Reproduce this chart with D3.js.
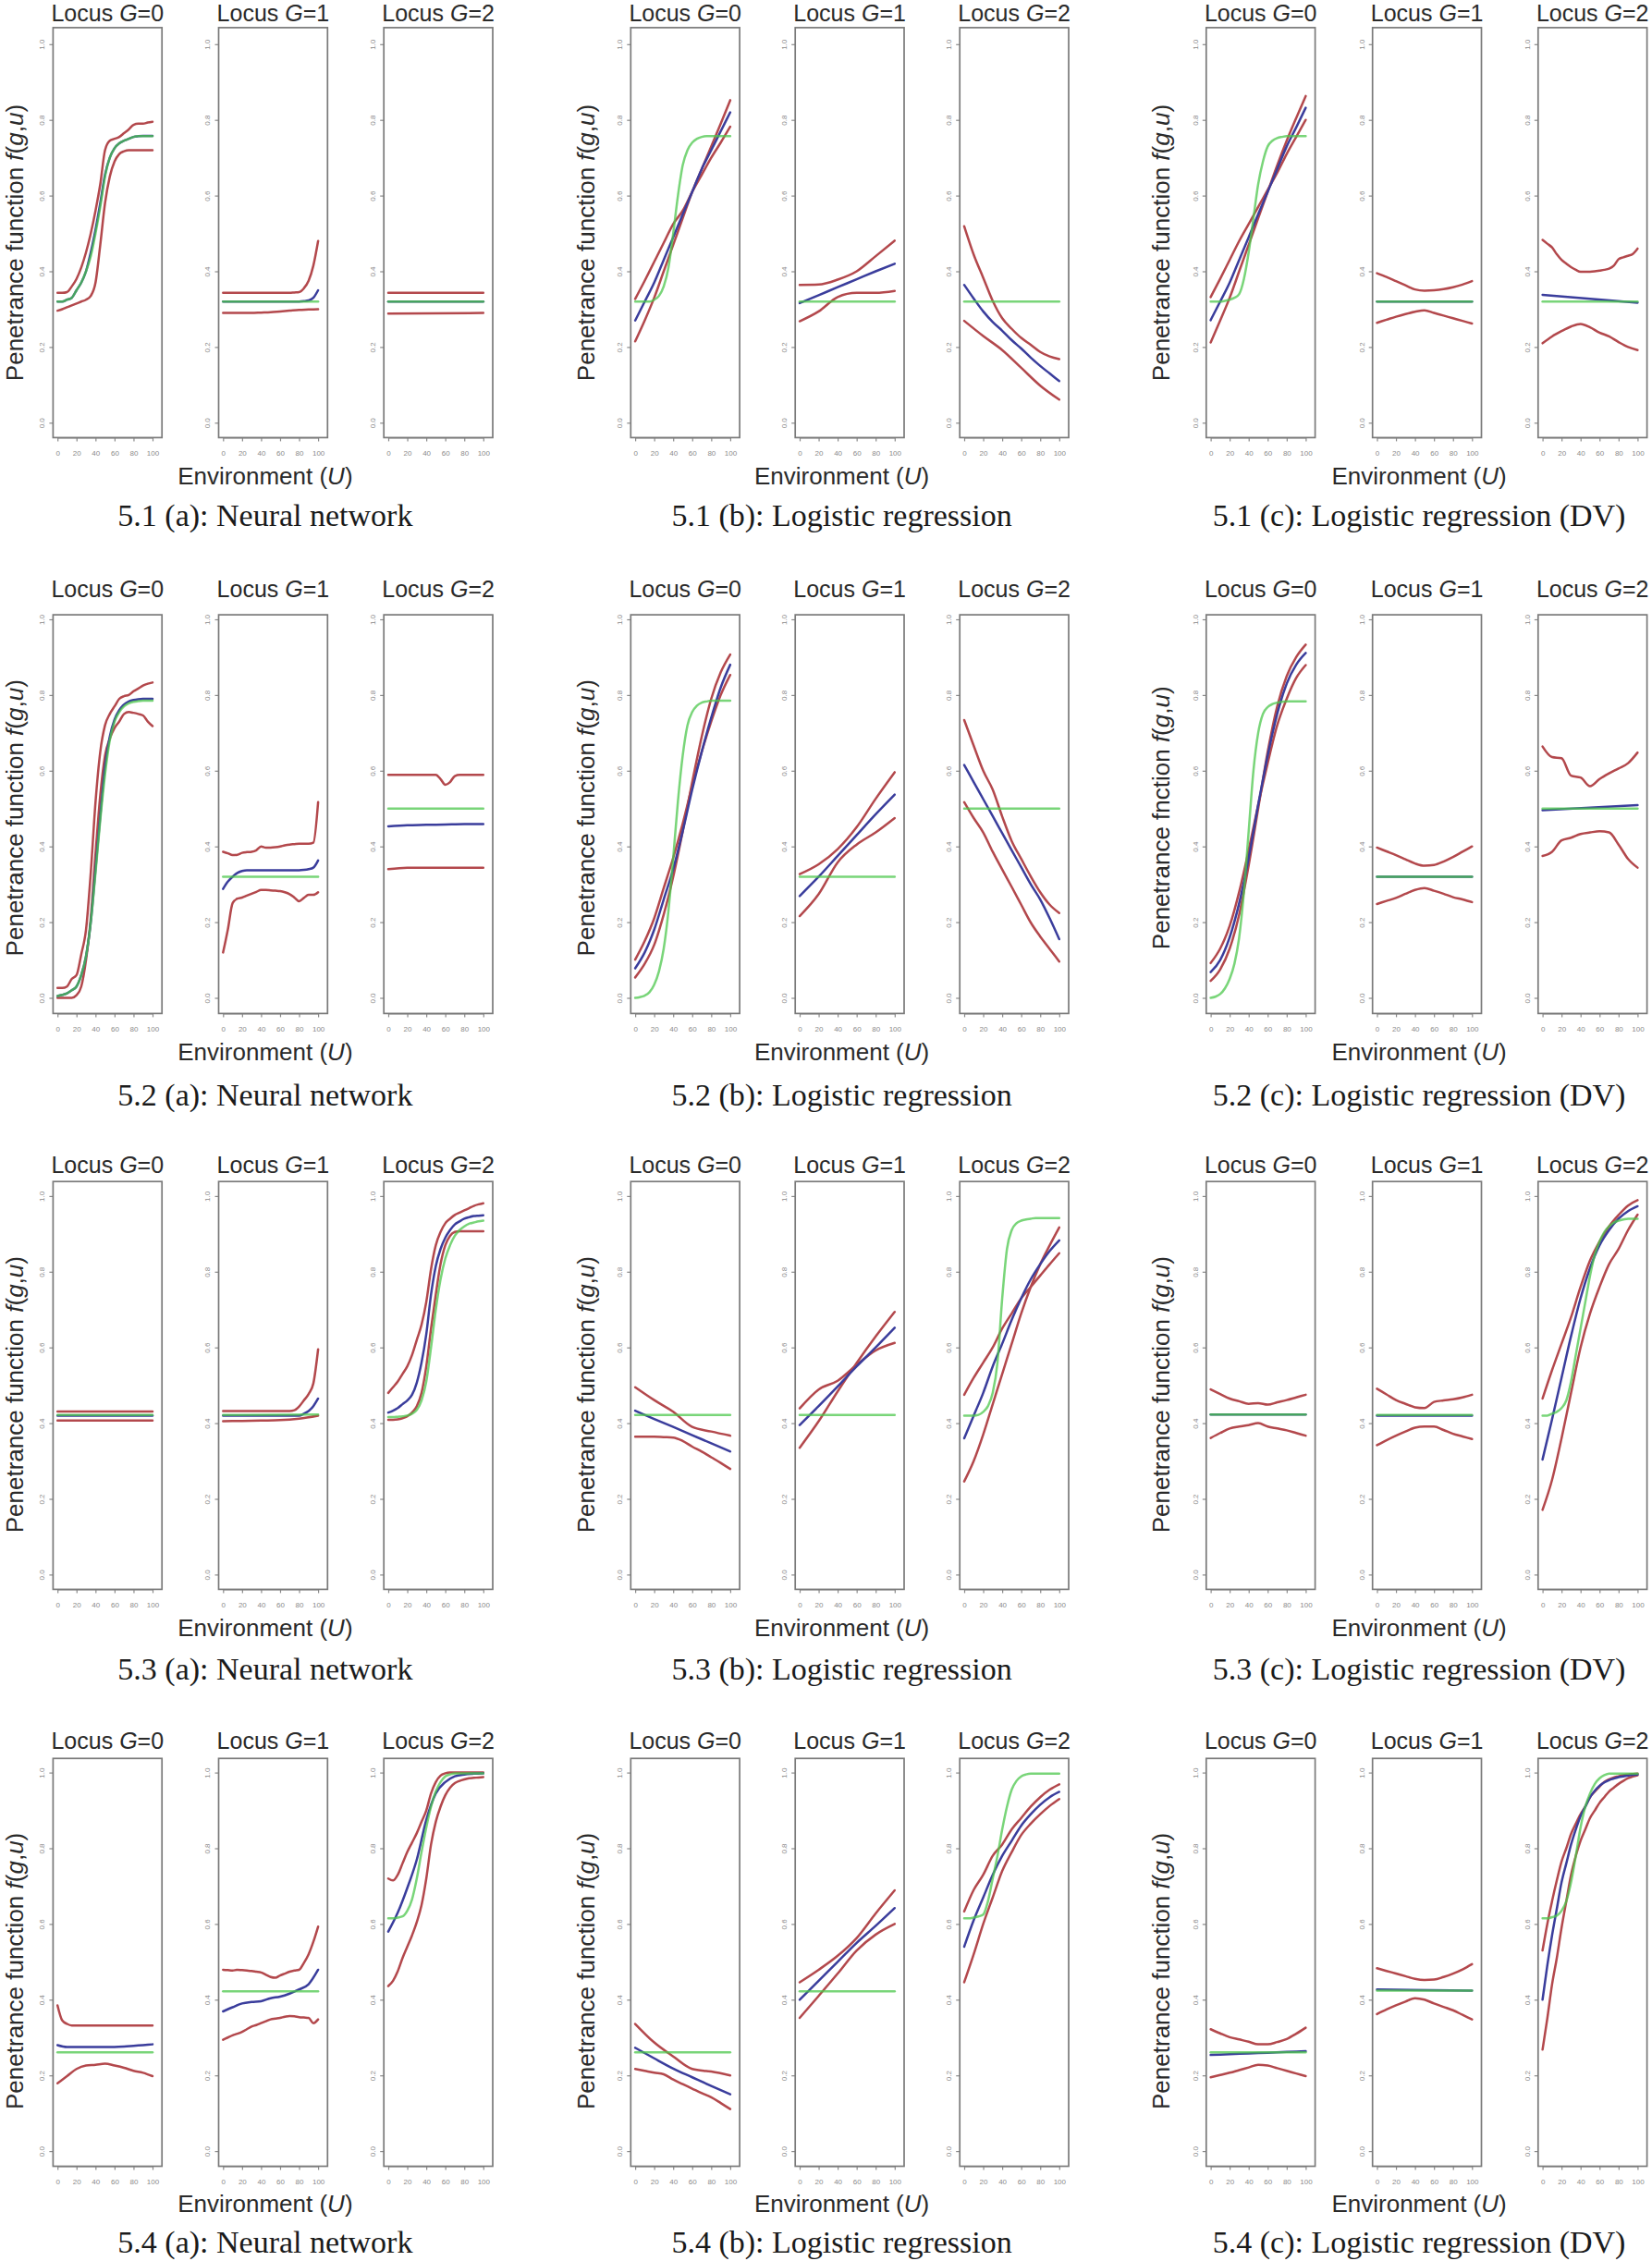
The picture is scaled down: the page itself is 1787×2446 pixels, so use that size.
<!DOCTYPE html>
<html><head><meta charset="utf-8">
<script src="https://cdnjs.cloudflare.com/ajax/libs/d3/7.8.5/d3.min.js"></script>
<style>body{margin:0;background:#fff} svg{display:block}</style>
</head><body>
<script>
// ---------- tick labels / text ----------
const xTicks=[0,20,40,60,80,100];
const yTicks=[0,0.2,0.4,0.6,0.8,1.0];
const genotypes=['0','1','2'];
const captions=['5.1 (a): Neural network','5.1 (b): Logistic regression','5.1 (c): Logistic regression (DV)',
 '5.2 (a): Neural network','5.2 (b): Logistic regression','5.2 (c): Logistic regression (DV)',
 '5.3 (a): Neural network','5.3 (b): Logistic regression','5.3 (c): Logistic regression (DV)',
 '5.4 (a): Neural network','5.4 (b): Logistic regression','5.4 (c): Logistic regression (DV)'];
const yTitleWords=['Penetrance function','Penetrance function','Penetrance function',
 'Penetrance function','Penetrance function','Penetrance fnction',
 'Penetrance function','Penetrance function','Penetrance function',
 'Penetrance function','Penetrance function','Penetrance function'];
// ---------- data: each series sampled evenly over U = 0..100 ----------
// T = true (green), E = estimate (blue), A/B = confidence bounds (red); [G=0, G=1, G=2]
const T51a=[[.32,.32,.325,.33,.35,.37,.40,.44,.50,.57,.65,.70,.725,.738,.745,.75,.755,.757,.757,.757,.757],[.32,.32],[.32,.32]];
const E51a=[[.32,.32,.325,.33,.35,.37,.40,.45,.51,.58,.655,.70,.725,.738,.745,.75,.755,.757,.758,.758,.758],[.32,.32,.32,.32,.32,.32,.32,.32,.32,.32,.32,.32,.32,.32,.32,.32,.32,.321,.323,.33,.35],[.32,.32]];
const A51a=[[.343,.343,.345,.36,.38,.41,.45,.50,.56,.63,.72,.745,.75,.755,.765,.775,.787,.79,.79,.793,.795],[.343,.343,.343,.343,.343,.343,.343,.343,.343,.343,.343,.343,.343,.343,.343,.344,.345,.355,.375,.415,.48],[.343,.343]];
const B51a=[[.296,.30,.305,.31,.315,.32,.325,.335,.37,.47,.58,.65,.69,.71,.717,.72,.72,.72,.72,.72,.72],[.29,.29,.29,.29,.291,.292,.294,.296,.298,.299,.30],[.288,.29]];

const T51b=[[.32,.32,.32,.32,.325,.335,.36,.41,.50,.60,.68,.72,.74,.75,.755,.757,.757,.757,.757,.757,.757],[.32,.32],[.32,.32]];
const E51b=[[.27,.32,.37,.43,.49,.55,.61,.67,.72,.77,.82],[.316,.337,.358,.379,.40,.42],[.364,.328,.294,.266,.243,.218,.196,.172,.15,.13,.11]];
const A51b=[[.327,.375,.425,.475,.525,.56,.61,.655,.70,.74,.782],[.364,.365,.378,.40,.44,.481],[.519,.444,.383,.322,.276,.248,.224,.206,.187,.175,.168]];
const B51b=[[.215,.27,.33,.40,.47,.54,.61,.67,.73,.79,.852],[.268,.294,.332,.343,.343,.348],[.269,.229,.192,.145,.098,.061]];

const T51c=[[.32,.32,.32,.322,.325,.33,.34,.38,.45,.54,.63,.69,.73,.745,.752,.755,.757,.757,.757,.757,.757],[.32,.32],[.32,.32]];
const E51c=[[.271,.32,.37,.43,.49,.551,.61,.67,.73,.78,.832],[.32,.32],[.338,.317]];
const A51c=[[.332,.38,.43,.48,.525,.57,.615,.66,.71,.755,.80],[.395,.385,.374,.363,.352,.349,.35,.353,.358,.365,.374],[.483,.473,.463,.445,.43,.42,.411,.404,.399,.399,.399,.40,.402,.404,.407,.415,.432,.437,.441,.446,.46]];
const B51c=[[.212,.27,.33,.40,.47,.54,.61,.68,.745,.805,.863],[.264,.272,.28,.287,.293,.297,.29,.283,.276,.269,.262],[.21,.228,.242,.254,.261,.252,.238,.228,.213,.20,.192]];

const T52a=[[.005,.008,.012,.02,.03,.06,.11,.20,.33,.47,.59,.68,.73,.755,.77,.778,.782,.784,.785,.785,.785],[.32,.32],[.5,.5]];
const E52a=[[.005,.008,.012,.02,.03,.06,.11,.20,.34,.48,.61,.69,.735,.76,.775,.783,.787,.789,.79,.79,.79],[.288,.307,.32,.33,.335,.337,.337,.337,.337,.337,.337,.337,.337,.337,.337,.337,.337,.338,.34,.344,.363],[.453,.456,.457,.458,.459,.459]];
const A52a=[[.026,.026,.03,.05,.06,.115,.18,.33,.517,.65,.72,.75,.77,.79,.797,.80,.81,.817,.825,.83,.833],[.386,.382,.377,.378,.383,.385,.386,.39,.40,.397,.397,.398,.40,.403,.405,.406,.407,.407,.407,.41,.517],[.589,.589,.589,.589,.589,.589,.589,.589,.589,.589,.589,.578,.563,.57,.586,.589,.589,.589,.589,.589,.589]];
const B52a=[[0,0,0,0,.007,.03,.10,.21,.38,.535,.64,.685,.713,.73,.75,.755,.753,.75,.746,.73,.718],[.12,.18,.25,.262,.265,.27,.275,.28,.285,.285,.284,.283,.282,.279,.274,.265,.255,.264,.272,.272,.279],[.34,.344,.344,.344,.344,.344]];

const T52b=[[0,.002,.006,.015,.035,.07,.13,.23,.37,.52,.64,.72,.755,.772,.78,.783,.785,.785,.785,.785,.785],[.32,.32],[.5,.5]];
const E52b=[[.078,.12,.18,.26,.34,.44,.55,.65,.74,.82,.88],[.269,.32,.375,.43,.485,.537],[.615,.57,.525,.48,.435,.39,.345,.30,.26,.21,.155]];
const A52b=[[.101,.15,.21,.29,.37,.46,.56,.65,.73,.80,.853],[.327,.353,.393,.451,.526,.596],[.734,.666,.60,.55,.479,.414,.367,.321,.279,.246,.224]];
const B52b=[[.054,.09,.14,.22,.32,.44,.57,.69,.79,.86,.907],[.216,.274,.358,.405,.437,.475],[.517,.475,.437,.386,.339,.293,.246,.199,.162,.129,.096]];

const T52c=[[0,.003,.01,.025,.05,.09,.16,.28,.44,.60,.70,.75,.768,.776,.78,.782,.783,.783,.783,.783,.783],[.32,.32],[.5,.5]];
const E52c=[[.068,.10,.16,.25,.37,.51,.64,.75,.83,.88,.911],[.32,.32],[.496,.509]];
const A52c=[[.092,.13,.19,.28,.39,.51,.62,.72,.79,.845,.879],[.397,.387,.377,.366,.355,.349,.351,.36,.372,.386,.40],[.664,.636,.633,.587,.582,.559,.578,.593,.606,.62,.648]];
const B52c=[[.045,.075,.13,.22,.35,.50,.65,.77,.85,.90,.933],[.248,.256,.264,.275,.285,.29,.283,.275,.266,.26,.253],[.375,.386,.416,.423,.433,.437,.44,.437,.405,.367,.344]];

const T53a=[[.4215,.4215],[.4215,.423],[.416,.416,.417,.418,.42,.425,.435,.46,.51,.60,.70,.78,.835,.87,.895,.91,.92,.927,.93,.933,.935]];
const E53a=[[.42,.42],[.42,.42,.42,.42,.42,.42,.42,.42,.42,.42,.42,.42,.42,.42,.42,.42,.42,.425,.432,.445,.465],[.428,.433,.44,.45,.46,.475,.507,.56,.635,.74,.815,.86,.89,.91,.925,.933,.94,.944,.947,.948,.949]];
const A53a=[[.431,.431],[.432,.432,.432,.432,.432,.432,.432,.432,.432,.432,.432,.432,.432,.432,.432,.434,.444,.46,.477,.505,.595],[.48,.495,.51,.53,.55,.58,.62,.66,.72,.807,.87,.905,.928,.94,.95,.956,.962,.968,.974,.978,.981]];
const B53a=[[.407,.407],[.405,.406,.407,.408,.412,.42],[.409,.409,.41,.413,.418,.428,.445,.48,.55,.65,.74,.82,.87,.895,.905,.907,.907,.907,.907,.907,.907]];

const T53b=[[.4215,.4215],[.4215,.4215],[.42,.42,.42,.422,.43,.445,.48,.56,.73,.86,.91,.928,.935,.938,.94,.942,.942,.942,.942,.942,.942]];
const E53b=[[.433,.411,.39,.368,.347,.325],[.395,.445,.497,.55,.60,.652],[.36,.42,.48,.55,.61,.673,.73,.78,.82,.855,.883]];
const A53b=[[.495,.461,.43,.39,.378,.367],[.439,.489,.512,.554,.592,.612],[.475,.52,.56,.60,.65,.69,.73,.76,.79,.82,.849]];
const B53b=[[.364,.364,.364,.363,.362,.353,.338,.325,.31,.295,.279],[.335,.405,.484,.559,.629,.694],[.246,.30,.37,.45,.53,.61,.69,.76,.82,.87,.917]];

const T53c=[[.423,.423],[.4215,.4215],[.42,.42,.425,.43,.44,.46,.51,.58,.65,.72,.79,.845,.88,.905,.92,.93,.935,.938,.94,.94,.94]];
const E53c=[[.423,.423],[.42,.42],[.304,.41,.52,.63,.73,.81,.87,.91,.94,.96,.973]];
const A53c=[[.489,.477,.465,.458,.451,.453,.449,.455,.461,.468,.475],[.491,.476,.461,.451,.442,.44,.456,.46,.463,.468,.475],[.465,.54,.61,.68,.76,.83,.88,.92,.95,.975,.989]];
const B53c=[[.361,.374,.386,.391,.395,.40,.391,.386,.381,.374,.367],[.342,.355,.367,.378,.388,.391,.391,.382,.372,.365,.358],[.171,.25,.36,.48,.60,.69,.76,.82,.86,.91,.951]];

const T54a=[[.261,.261],[.422,.422],[.615,.615,.617,.62,.635,.665,.72,.79,.855,.91,.95,.975,.99,.995,.998,.998,.998,.998,.998,.998,.998]];
const E54a=[[.28,.275,.275,.275,.275,.275,.275,.276,.278,.28,.282],[.369,.38,.39,.394,.396,.404,.408,.416,.427,.441,.479],[.58,.63,.695,.77,.875,.945,.975,.99,.995,.997,.998]];
const A54a=[[.385,.345,.336,.332,.332,.332,.332,.332,.332,.332,.332,.332,.332,.332,.332,.332,.332,.332,.332,.332,.332],[.479,.478,.477,.479,.478,.477,.476,.474,.472,.466,.46,.458,.464,.469,.474,.477,.479,.497,.52,.553,.593],[.72,.715,.73,.76,.79,.815,.84,.87,.90,.945,.975,.992,.998,1,1,1,1,1,1,1,1]];
const B54a=[[.179,.198,.217,.226,.228,.231,.226,.22,.212,.207,.198],[.294,.30,.306,.31,.315,.322,.329,.333,.338,.343,.348,.35,.352,.355,.357,.356,.354,.353,.352,.338,.348],[.436,.45,.475,.51,.54,.57,.605,.65,.72,.81,.87,.91,.94,.96,.972,.978,.982,.985,.986,.987,.988]];

const T54b=[[.261,.261],[.422,.422],[.615,.615,.617,.62,.625,.66,.72,.78,.85,.91,.955,.978,.99,.995,.997,.997,.997,.997,.997,.997,.997]];
const E54b=[[.273,.245,.218,.195,.172,.15],[.40,.45,.50,.55,.595,.642],[.54,.61,.67,.73,.78,.82,.86,.89,.915,.935,.949]];
const A54b=[[.336,.287,.25,.217,.21,.20],[.446,.479,.516,.563,.628,.689],[.633,.69,.73,.78,.81,.85,.88,.91,.935,.955,.969]];
const B54b=[[.217,.212,.207,.203,.189,.177,.165,.153,.142,.127,.111],[.352,.41,.469,.53,.572,.60],[.446,.52,.60,.67,.74,.79,.835,.865,.89,.912,.93]];

const T54c=[[.261,.261],[.424,.424],[.615,.615,.618,.622,.635,.66,.71,.78,.855,.91,.945,.97,.985,.993,.997,.997,.997,.997,.997,.997,.997]];
const E54c=[[.254,.256,.258,.26,.262,.264],[.427,.424],[.40,.49,.57,.64,.71,.76,.81,.85,.885,.91,.935,.952,.965,.974,.98,.984,.988,.99,.992,.994,.995]];
const A54c=[[.322,.311,.301,.295,.289,.282,.282,.288,.296,.31,.326],[.483,.476,.469,.462,.455,.452,.453,.46,.469,.48,.494],[.53,.60,.66,.715,.765,.80,.838,.865,.89,.91,.935,.95,.963,.975,.982,.987,.99,.993,.995,.996,.997]];
const B54c=[[.195,.201,.207,.214,.221,.228,.226,.219,.212,.205,.198],[.362,.374,.385,.395,.404,.40,.39,.381,.372,.36,.348],[.268,.35,.44,.51,.59,.66,.73,.78,.82,.85,.88,.90,.92,.935,.95,.96,.97,.978,.985,.99,.993]];

const figs=[
 {T:T51a,E:E51a,A:A51a,B:B51a},{T:T51b,E:E51b,A:A51b,B:B51b},{T:T51c,E:E51c,A:A51c,B:B51c},
 {T:T52a,E:E52a,A:A52a,B:B52a},{T:T52b,E:E52b,A:A52b,B:B52b},{T:T52c,E:E52c,A:A52c,B:B52c},
 {T:T53a,E:E53a,A:A53a,B:B53a},{T:T53b,E:E53b,A:A53b,B:B53b},{T:T53c,E:E53c,A:A53c,B:B53c},
 {T:T54a,E:E54a,A:A54a,B:B54a},{T:T54b,E:E54b,A:A54b,B:B54b},{T:T54c,E:E54c,A:A54c,B:B54c}];

// ---------- layout ----------
const W=1787,H=2446;
const rows=[
 {top:29.9,bot:473.4,y1:47.8,y0:457.3,title:22.8,env:524.3,cap:569},
 {top:665.1,bot:1096.4,y1:670.0,y0:1079.5,title:645.5,env:1147.3,cap:1196},
 {top:1278.2,bot:1719.4,y1:1293.9,y0:1703.4,title:1269,env:1770,cap:1817},
 {top:1902.3,bot:2343.5,y1:1917.6,y0:2327.1,title:1891.5,env:2393.3,cap:2437}];
const cols=[{lefts:[57.4,236.5,415.2],ylab:24.5},{lefts:[682.3,860.2,1038.2],ylab:642.9},{lefts:[1304.8,1484.7,1663.8],ylab:1265.4}];
const PW=117.8;
const SANS="'Liberation Sans', Arial, Helvetica, sans-serif";
const SERIF="'Liberation Serif', 'Times New Roman', serif";
const RED='#b3484c', BLUE='#3a3d9c', GREEN='#4cc74c', TXT='#2a2a2a', AX='#8a8a8a';

const svg=d3.select('body').append('svg').attr('width',W).attr('height',H).style('background','#fff');
const pts=v=>v.map((d,i)=>[i*100/(v.length-1),d]);

figs.forEach((f,k)=>{
  const r=rows[Math.floor(k/3)], c=cols[k%3];
  const g=svg.append('g');
  const y=d3.scaleLinear().domain([0,1]).range([r.y0,r.y1]);
  c.lefts.forEach((L,gi)=>{
    const x=d3.scaleLinear().domain([0,100]).range([L+4.8,L+107.6]);
    const p=g.append('g');
    // y axis
    const ay=p.append('g').attr('transform',`translate(${L},0)`)
      .call(d3.axisLeft(y).tickValues(yTicks).tickFormat(d3.format('.1f')).tickSize(4).tickSizeOuter(0));
    ay.select('.domain').remove();
    ay.selectAll('line').attr('stroke',AX).attr('stroke-width',1.2);
    ay.selectAll('text').attr('x',0).attr('y',0).attr('dy','0.35em')
      .attr('transform','translate(-12,0) rotate(-90)').attr('text-anchor','middle')
      .attr('fill',AX).style('font-size','8px').style('font-family',SANS);
    // x axis
    const ax=p.append('g').attr('transform',`translate(0,${r.bot})`)
      .call(d3.axisBottom(x).tickValues(xTicks).tickSize(4).tickSizeOuter(0));
    ax.select('.domain').attr('stroke',AX).attr('stroke-width',1.2);
    ax.selectAll('line').attr('stroke',AX).attr('stroke-width',1.2);
    ax.selectAll('text').attr('y',16.5).attr('dy','0.35em')
      .attr('fill',AX).style('font-size','8px').style('font-family',SANS);
    // box
    p.append('rect').attr('x',L).attr('y',r.top).attr('width',PW).attr('height',r.bot-r.top)
      .attr('fill','none').attr('stroke','#7a7a7a').attr('stroke-width',1.7);
    // lines
    const line=d3.line().x(d=>x(d[0])).y(d=>y(d[1])).curve(d3.curveMonotoneX);
    [['A',RED,1],['B',RED,1],['E',BLUE,1],['T',GREEN,0.75]].forEach(([key,col,op])=>{
      p.append('path').datum(pts(f[key][gi])).attr('d',line)
        .attr('fill','none').attr('stroke',col).attr('stroke-width',2.5)
        .attr('stroke-opacity',op).attr('stroke-linejoin','round').attr('stroke-linecap','round');
    });
    // title
    const t=p.append('text').attr('x',L+PW/2).attr('y',r.title).attr('text-anchor','middle')
      .attr('fill',TXT).style('font-family',SANS).style('font-size','25px');
    t.append('tspan').text('Locus ');
    t.append('tspan').attr('font-style','italic').text('G');
    t.append('tspan').text('='+genotypes[gi]);
  });
  const cx=c.lefts[1]+PW/2-8.5;
  // x label
  const e=g.append('text').attr('x',cx).attr('y',r.env).attr('text-anchor','middle')
    .attr('fill',TXT).style('font-family',SANS).style('font-size','26px');
  e.append('tspan').text('Environment (');
  e.append('tspan').attr('font-style','italic').text('U');
  e.append('tspan').text(')');
  // y label
  const ly=(r.y0+r.y1)/2+10;
  const yl=g.append('text').attr('transform',`translate(${c.ylab},${ly}) rotate(-90)`).attr('text-anchor','middle')
    .attr('fill',TXT).style('font-family',SANS).style('font-size','26px');
  yl.append('tspan').text(yTitleWords[k]+' ');
  yl.append('tspan').attr('font-style','italic').text('f');
  yl.append('tspan').text('(');
  yl.append('tspan').attr('font-style','italic').text('g');
  yl.append('tspan').text(',');
  yl.append('tspan').attr('font-style','italic').text('u');
  yl.append('tspan').text(')');
  // caption
  g.append('text').attr('x',cx).attr('y',r.cap).attr('text-anchor','middle')
    .attr('fill','#1a1a1a').style('font-family',SERIF).style('font-size','34px').text(captions[k]);
});
</script>
</body></html>
